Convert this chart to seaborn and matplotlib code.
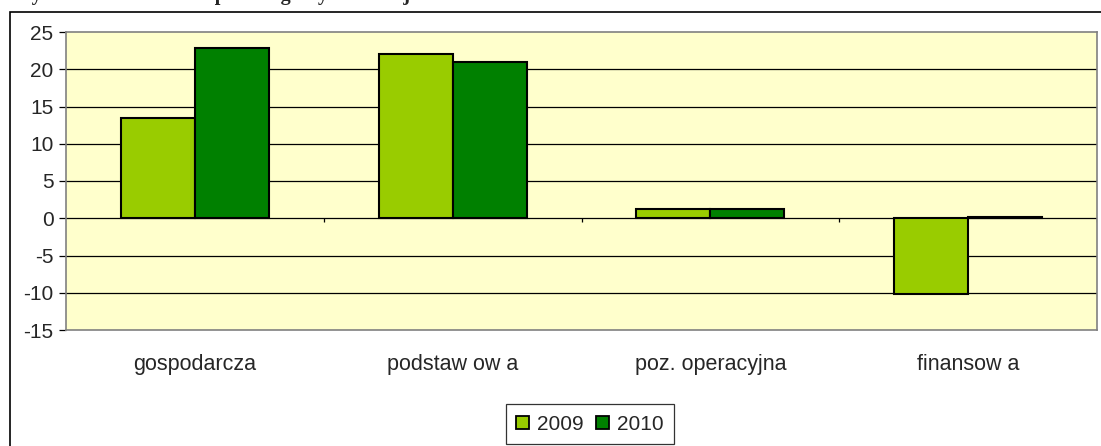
import pandas as pd
import matplotlib
matplotlib.use("Agg")
import matplotlib.pyplot as plt
import matplotlib.patches as mpatches
import seaborn as sns

# dane
categories = ['gospodarcza', 'podstaw ow a', 'poz. operacyjna', 'finansow a']
years = ['2009', '2010']
values_2009 = [13.4, 22.0, 1.3, -10.2]
values_2010 = [22.8, 21.0, 1.3, 0.2]
yticks = [-15, -10, -5, 0, 5, 10, 15, 20, 25]
colors = {'2009': '#99CC00', '2010': '#008000'}

df = pd.DataFrame({
    'kategoria': categories * 2,
    'rok': [years[0]] * 4 + [years[1]] * 4,
    'wartosc': values_2009 + values_2010,
})

sns.set_style('white')
plt.rcParams['font.family'] = ['Liberation Sans', 'DejaVu Sans']

fig = plt.figure(figsize=(11.01, 4.46), dpi=100)
ax = fig.add_axes([66 / 1101, 1 - 330 / 446, 1031 / 1101, 298 / 446])
ax.set_facecolor('#FFFFCC')

sns.barplot(data=df, x='kategoria', y='wartosc', hue='rok', palette=colors,
            saturation=1, width=0.574, edgecolor='black', linewidth=1.5,
            gap=0, ax=ax, zorder=3)

ax.set_xlim(-0.5, len(categories) - 0.5)
ax.set_ylim(yticks[0], yticks[-1])
ax.set_yticks(yticks)
ax.set_yticklabels([str(t) for t in yticks], fontsize=15)
for t in yticks[1:-1]:
    ax.axhline(t, color='black', linewidth=0.9, zorder=1)

# znaczniki osi kategorii na linii zera
bounds = [i + 0.5 for i in range(len(categories))]
ax.vlines(bounds, 0, -0.55, color='black', linewidth=0.9, zorder=2)

ax.set_xlabel('')
ax.set_ylabel('')
ax.tick_params(axis='x', length=0, pad=17, labelsize=15.5)
ax.tick_params(axis='y', left=True, length=5, width=0.9, color='black', pad=4)
for s in ax.spines.values():
    s.set_color('#808080')
    s.set_linewidth(1.2)

leg = ax.legend(loc='center', bbox_to_anchor=(590 / 1101, 1 - 424 / 446),
                bbox_transform=fig.transFigure, ncol=2, frameon=True,
                fancybox=False, edgecolor='black', fontsize=15,
                handlelength=0.6, handleheight=0.6, handletextpad=0.4,
                columnspacing=0.6, borderpad=0.5, borderaxespad=0)
leg.get_frame().set_linewidth(0.9)
for h in leg.legend_handles:
    h.set_edgecolor('black')
    h.set_linewidth(1.3)

# ramka wykresu
frame = mpatches.Rectangle((10 / 1101, -0.1), 1.2, 1.1 - 12 / 446,
                           transform=fig.transFigure, fill=False,
                           edgecolor='black', linewidth=1.2)
fig.patches.append(frame)

# tytuł ucięty u góry
fig.text(12 / 1101, 1.0, 'Wykres 5. Rentowność poszczególnych rodzajów działalności',
         ha='left', va='baseline', fontsize=14.7, fontweight='bold',
         family=['Liberation Serif', 'DejaVu Serif'])

fig.savefig('out.png', dpi=100)
